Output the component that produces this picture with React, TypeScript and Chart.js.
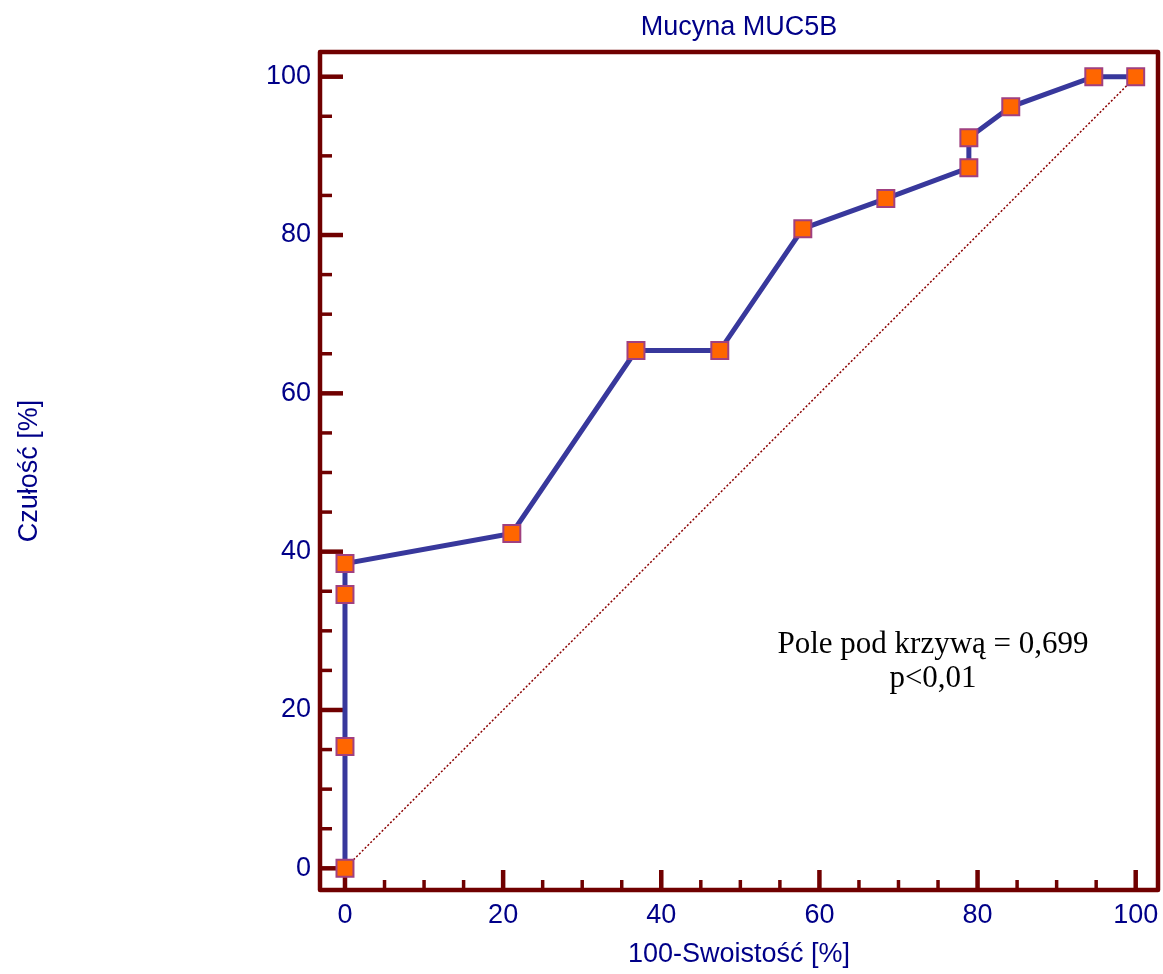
import React, { useEffect, useRef } from "react";
import { Chart, registerables } from "chart.js";

Chart.register(...registerables);

// ROC curve points: 100 - specificity (x) vs. sensitivity (y), in percent
const falsePositiveRate = [0, 0, 0, 0, 21.1, 36.8, 47.4, 57.9, 68.4, 78.9, 78.9, 84.2, 94.7, 100];
const sensitivity = [0, 15.4, 34.6, 38.5, 42.3, 65.4, 65.4, 80.8, 84.6, 88.5, 92.3, 96.2, 100, 100];

// chance diagonal
const diagonalX = [0, 100];
const diagonalY = [0, 100];

const majorTicks = [0, 20, 40, 60, 80, 100];
const minorTicks = [5, 10, 15, 25, 30, 35, 45, 50, 55, 65, 70, 75, 85, 90, 95];

const chartTitle = "Mucyna MUC5B";
const xAxisTitle = "100-Swoistość [%]";
const yAxisTitle = "Czułość [%]";
const aucLines = ["Pole pod krzywą = 0,699", "p<0,01"];

const WIDTH = 1163;
const HEIGHT = 974;
const FRAME = "#700000";
const NAVY = "#000088";
const SANS = "'Liberation Sans', Arial, sans-serif";
const SERIF = "'Liberation Serif', 'Times New Roman', serif";

const framePlugin = {
  id: "rocFrame",
  beforeDatasetsDraw(chart: any) {
    const { ctx, chartArea } = chart;
    const xs = chart.scales.x;
    const ys = chart.scales.y;
    const { left, right, top, bottom } = chartArea;
    ctx.save();
    ctx.strokeStyle = FRAME;
    ctx.lineCap = "butt";

    // inward ticks on the left axis
    majorTicks.forEach((v) => {
      const y = ys.getPixelForValue(v);
      ctx.lineWidth = 4.5;
      ctx.beginPath();
      ctx.moveTo(left, y);
      ctx.lineTo(left + 23, y);
      ctx.stroke();
    });
    minorTicks.forEach((v) => {
      const y = ys.getPixelForValue(v);
      ctx.lineWidth = 3.5;
      ctx.beginPath();
      ctx.moveTo(left, y);
      ctx.lineTo(left + 12, y);
      ctx.stroke();
    });

    // inward ticks on the bottom axis
    majorTicks.forEach((v) => {
      const x = xs.getPixelForValue(v);
      ctx.lineWidth = 4.5;
      ctx.beginPath();
      ctx.moveTo(x, bottom);
      ctx.lineTo(x, bottom - 20);
      ctx.stroke();
    });
    minorTicks.forEach((v) => {
      const x = xs.getPixelForValue(v);
      ctx.lineWidth = 3.5;
      ctx.beginPath();
      ctx.moveTo(x, bottom);
      ctx.lineTo(x, bottom - 10);
      ctx.stroke();
    });

    // frame around the plot area
    ctx.lineWidth = 4.5;
    ctx.lineJoin = "round";
    ctx.strokeRect(left, top, right - left, bottom - top);
    ctx.restore();
  },
};

const textPlugin = {
  id: "rocText",
  afterDraw(chart: any) {
    const { ctx, chartArea } = chart;
    const cx = (chartArea.left + chartArea.right) / 2;
    const cy = (chartArea.top + chartArea.bottom) / 2;
    ctx.save();
    ctx.fillStyle = NAVY;
    ctx.textAlign = "center";
    ctx.textBaseline = "alphabetic";

    ctx.font = `27px ${SANS}`;
    ctx.fillText(chartTitle, cx, 35);

    ctx.fillText(xAxisTitle, cx, 962);

    ctx.save();
    ctx.translate(37, cy);
    ctx.rotate(-Math.PI / 2);
    ctx.fillText(yAxisTitle, 0, 0);
    ctx.restore();

    ctx.fillStyle = "#000000";
    ctx.font = `31px ${SERIF}`;
    ctx.fillText(aucLines[0], 933, 653);
    ctx.fillText(aucLines[1], 933, 687);
    ctx.restore();
  },
};

export default function App() {
  const canvasRef = useRef<HTMLCanvasElement | null>(null);

  useEffect(() => {
    const canvas = canvasRef.current;
    if (!canvas) return;

    const rocPoints = falsePositiveRate.map((x, i) => ({ x, y: sensitivity[i] }));
    const diagonalPoints = diagonalX.map((x, i) => ({ x, y: diagonalY[i] }));

    const chart = new Chart(canvas, {
      type: "line",
      data: {
        datasets: [
          {
            data: rocPoints,
            borderColor: "#38389c",
            borderWidth: 5,
            pointStyle: "rect",
            pointRadius: 12,
            pointBackgroundColor: "#ff6600",
            pointBorderColor: "#a04080",
            pointBorderWidth: 2,
            tension: 0,
            order: 1,
            clip: false,
          },
          {
            data: diagonalPoints,
            borderColor: "#8b0000",
            borderWidth: 1.5,
            borderDash: [2, 2],
            pointRadius: 0,
            order: 2,
          },
        ],
      },
      options: {
        responsive: false,
        animation: false,
        devicePixelRatio: 1,
        layout: { autoPadding: false, padding: { top: 52, right: 5, left: 0, bottom: 0 } },
        plugins: {
          legend: { display: false },
          tooltip: { enabled: false },
          title: { display: false },
        },
        scales: {
          x: {
            type: "linear",
            min: -3.16,
            max: 102.82,
            grid: { display: false, drawTicks: false },
            border: { display: false },
            afterBuildTicks: (scale: any) => {
              scale.ticks = majorTicks.map((value) => ({ value }));
            },
            afterFit: (scale: any) => {
              scale.height = HEIGHT - 890;
              scale.paddingLeft = 0;
              scale.paddingRight = 0;
            },
            ticks: {
              color: NAVY,
              font: { family: SANS, size: 27 },
              padding: 9,
              maxRotation: 0,
              autoSkip: false,
            },
          },
          y: {
            type: "linear",
            min: -2.74,
            max: 103.12,
            grid: { display: false, drawTicks: false },
            border: { display: false },
            afterBuildTicks: (scale: any) => {
              scale.ticks = majorTicks.map((value) => ({ value }));
            },
            afterFit: (scale: any) => {
              scale.width = 320;
              scale.paddingTop = 0;
              scale.paddingBottom = 0;
            },
            ticks: {
              color: NAVY,
              font: { family: SANS, size: 27 },
              padding: 9,
              autoSkip: false,
            },
          },
        },
      },
      plugins: [framePlugin, textPlugin],
    });

    return () => chart.destroy();
  }, []);

  return (
    <div style={{ position: "fixed", left: 0, top: 0, width: WIDTH, height: HEIGHT, background: "#ffffff" }}>
      <canvas ref={canvasRef} width={WIDTH} height={HEIGHT} style={{ display: "block" }} />
    </div>
  );
}
